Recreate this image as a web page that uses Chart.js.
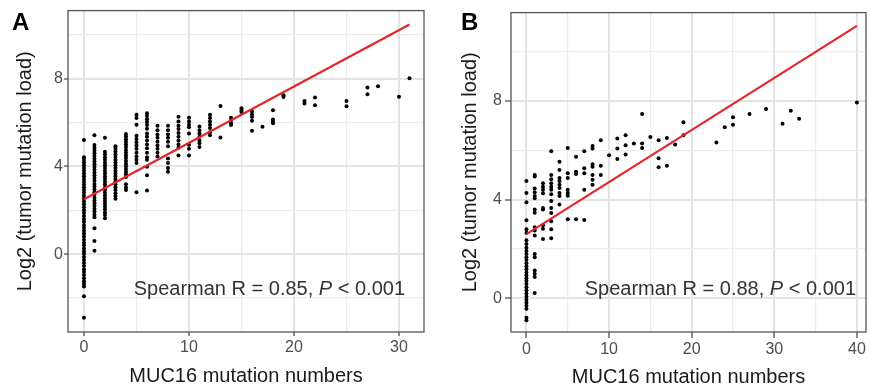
<!DOCTYPE html>
<html lang="en">
<head>
  <meta charset="UTF-8" />
  <title>MUC16 mutation numbers vs tumor mutation load</title>
  <!-- Chart.js -->
  <script src="https://cdn.jsdelivr.net/npm/chart.js"></script>
  <style>
    html, body { margin: 0; padding: 0; background: #fff; }
    .panel { position: absolute; top: 0; width: 435px; height: 391px; }
    #panelA { left: 0; }
    #panelB { left: 435px; }
    .tag { position: absolute; top: 8px; font: bold 24px "Liberation Sans", Arial, sans-serif; color: #000; line-height: normal; }
  </style>
</head>
<body>
  <div class="panel" id="panelA"><canvas id="chartA" width="435" height="391"></canvas></div>
  <div class="panel" id="panelB"><canvas id="chartB" width="435" height="391"></canvas></div>
  <div class="tag" style="left: 12px;">A</div>
  <div class="tag" style="left: 461px;">B</div>

  <script>
    // ---- data ----
    // panel A: MUC16 mutation numbers (x) and the log2 loads seen at each x
    const mutA = [0, 1, 2, 3, 4, 5, 6, 7, 8, 9, 10, 11, 12, 13, 14, 15, 16, 17, 18, 19, 21, 22, 25, 27, 28, 30, 31];
    const loadA = [
      [5.2, 4.42, 4.3, 4.18, 4.05, 3.92, 3.8, 3.68, 3.55, 3.42, 3.3, 3.17, 3.05, 2.92, 2.8, 2.66, 2.52, 2.4, 2.27, 2.14, 2.0, 1.87, 1.74, 1.6, 1.47, 1.33, 1.2, 1.07, 0.94, 0.8, 0.66, 0.52, 0.4, 0.26, 0.12, 0.0, -0.13, -0.27, -0.4, -0.54, -0.7, -0.82, -0.95, -1.1, -1.24, -1.36, -1.48, -1.92, -2.9],
      [5.42, 4.97, 4.85, 4.72, 4.6, 4.47, 4.35, 4.22, 4.1, 3.97, 3.84, 3.72, 3.6, 3.47, 3.34, 3.2, 3.08, 2.95, 2.82, 2.7, 2.57, 2.44, 2.32, 2.2, 2.07, 1.94, 1.8, 1.68, 1.18, 0.6, 0.15],
      [5.3, 4.67, 4.55, 4.42, 4.3, 4.17, 4.05, 3.92, 3.8, 3.67, 3.54, 3.42, 3.3, 3.17, 3.04, 2.92, 2.8, 2.67, 2.54, 2.42, 2.3, 2.17, 2.04, 1.9, 1.78, 1.64],
      [4.92, 4.8, 4.68, 4.55, 4.43, 4.3, 4.18, 4.05, 3.92, 3.8, 3.68, 3.55, 3.42, 3.3, 3.18, 3.05, 2.92, 2.78, 2.65, 2.52],
      [5.48, 5.36, 5.24, 5.12, 5.0, 4.88, 4.75, 4.62, 4.5, 4.38, 4.25, 4.12, 4.0, 3.88, 3.76, 3.64, 3.52, 3.18, 3.04, 2.92],
      [6.35, 6.2, 5.9, 5.4, 5.25, 5.1, 4.95, 4.8, 4.62, 4.45, 4.3, 4.15, 2.82],
      [6.42, 6.3, 6.15, 6.02, 5.88, 5.72, 5.5, 5.35, 5.18, 5.0, 4.82, 4.62, 4.42, 4.3, 3.98, 3.6, 2.9],
      [5.85, 5.65, 5.45, 5.3, 5.12, 4.95, 4.8, 4.62, 4.45],
      [5.85, 5.65, 5.45, 5.3, 5.12, 4.92, 4.36, 4.15, 3.92, 3.76],
      [6.26, 6.05, 5.85, 5.7, 5.52, 5.35, 5.18, 5.0, 4.85, 4.5],
      [6.22, 6.05, 5.9, 5.78, 5.5, 4.98, 4.8, 4.5],
      [5.82, 5.65, 5.5, 5.35, 5.18, 5.05, 4.88],
      [6.35, 6.2, 6.05, 5.9, 5.75, 5.55, 5.42],
      [6.75, 5.32],
      [6.22, 6.08, 5.95, 5.88],
      [6.65, 6.55, 6.48],
      [6.5, 6.36, 6.25, 6.08, 5.62],
      [5.8],
      [6.56, 6.14, 6.05, 5.96],
      [7.24, 7.16],
      [6.98, 6.86],
      [7.14, 6.79],
      [6.98, 6.74],
      [7.6, 7.29],
      [7.65],
      [7.17],
      [8.02]
    ];
    const fitXA = [0, 31];
    const fitYA = [2.5, 10.47];

    // panel B
    const mutB = [0, 1, 2, 3, 4, 5, 6, 7, 8, 9, 10, 11, 12, 13, 14, 15, 16, 17, 18, 19, 23, 24, 25, 27, 29, 31, 32, 33, 40];
    const loadB = [
      [4.75, 4.27, 3.89, 3.16, 2.8, 2.66, 2.35, 2.2, 2.05, 1.92, 1.8, 1.67, 1.55, 1.42, 1.3, 1.18, 1.05, 0.93, 0.82, 0.7, 0.58, 0.45, 0.33, 0.2, 0.08, -0.05, -0.18, -0.3, -0.42, -0.78, -0.88],
      [5.0, 4.93, 4.45, 4.3, 4.15, 4.05, 3.6, 3.47, 2.88, 2.75, 2.55, 1.8, 1.67, 1.13, 1.0, 0.87, 0.22],
      [4.66, 4.52, 4.4, 4.26, 3.66, 3.6, 2.96, 2.82, 2.4],
      [5.96, 5.0, 4.82, 4.66, 4.52, 4.4, 4.22, 3.94, 3.66, 3.46, 3.12, 2.8, 2.44],
      [5.53, 5.2, 4.87, 4.75, 4.6, 4.47, 4.27, 4.15, 3.8],
      [6.09, 5.07, 4.87, 4.4, 4.27, 4.16, 3.2],
      [5.73, 5.13, 5.04, 3.2],
      [5.96, 5.27, 5.07, 4.4, 3.17],
      [6.17, 6.07, 5.43, 5.33, 5.0, 4.8, 4.6],
      [6.4, 5.37, 5.0],
      [5.8],
      [6.47, 6.07, 5.64],
      [6.6, 6.2, 5.83],
      [6.27],
      [7.47, 6.27, 6.09],
      [6.53],
      [6.4, 5.67, 5.31],
      [6.49, 5.37],
      [6.23],
      [7.13, 6.6],
      [6.31],
      [6.93],
      [7.33, 7.03],
      [7.47],
      [7.67],
      [7.07],
      [7.6],
      [7.27],
      [7.93]
    ];
    const fitXB = [0, 40];
    const fitYB = [2.6, 11.03];

    // grid breaks (major ones get a label)
    const xGridA = [0, 5, 10, 15, 20, 25, 30];
    const xLabelsA = [0, 10, 20, 30];
    const yGridA = [-2, 0, 2, 4, 6, 8, 10];
    const yLabelsA = [0, 4, 8];
    const xGridB = [0, 5, 10, 15, 20, 25, 30, 35, 40];
    const xLabelsB = [0, 10, 20, 30, 40];
    const yGridB = [0, 2, 4, 6, 8, 10];
    const yLabelsB = [0, 4, 8];

    const FONT = '"Liberation Sans", Arial, Helvetica, sans-serif';

    function toPoints(xs, groups) {
      const pts = [];
      xs.forEach((x, i) => groups[i].forEach(y => pts.push({ x: x, y: y })));
      return pts;
    }

    // frame round the panel + the Spearman note
    const panelDecor = {
      id: 'panelDecor',
      afterDatasetsDraw(chart, args, opts) {
        const { ctx, chartArea } = chart;
        ctx.save();
        ctx.fillStyle = '#333';
        ctx.textBaseline = 'alphabetic';
        const parts = [[opts.before, ''], ['P', 'italic '], [opts.after, '']];
        let total = 0;
        parts.forEach(p => { ctx.font = p[1] + '20px ' + FONT; total += ctx.measureText(p[0]).width; });
        let x = chartArea.right - opts.right - total;
        const y = chartArea.bottom - opts.bottom;
        parts.forEach(p => {
          ctx.font = p[1] + '20px ' + FONT;
          ctx.fillText(p[0], x, y);
          x += ctx.measureText(p[0]).width;
        });
        ctx.strokeStyle = '#555';
        ctx.lineWidth = 1.3;
        ctx.strokeRect(chartArea.left, chartArea.top, chartArea.right - chartArea.left, chartArea.bottom - chartArea.top);
        ctx.restore();
      }
    };

    function axis(p) {
      return {
        type: 'linear',
        position: p.position,
        min: p.min,
        max: p.max,
        afterBuildTicks: s => { s.ticks = p.grid.map(v => ({ value: v })); },
        afterFit: s => { if (p.position === 'left') s.width = p.size; else s.height = p.size; },
        border: { display: false },
        grid: {
          color: c => p.labels.includes(c.tick.value) ? '#e3e3e3' : '#ececec',
          lineWidth: c => p.labels.includes(c.tick.value) ? 2 : 1.2,
          drawTicks: true,
          tickLength: p.tickLength,
          tickWidth: 1.2,
          tickColor: c => p.labels.includes(c.tick.value) ? '#444' : 'rgba(0,0,0,0)'
        },
        ticks: {
          autoSkip: false,
          maxRotation: 0,
          padding: p.tickPad,
          color: '#4d4d4d',
          font: { family: FONT, size: 16 },
          callback: v => p.labels.includes(v) ? String(v) : ''
        },
        title: {
          display: true,
          text: p.title,
          color: '#1a1a1a',
          font: { family: FONT, size: 20 },
          padding: p.titlePad
        }
      };
    }

    function makePanel(id, cfg) {
      new Chart(document.getElementById(id), {
        type: 'scatter',
        data: {
          datasets: [
            {
              type: 'line',
              data: cfg.fitX.map((x, i) => ({ x: x, y: cfg.fitY[i] })),
              borderColor: '#e3262a',
              borderWidth: 2.2,
              pointRadius: 0,
              order: 0
            },
            {
              data: toPoints(cfg.xs, cfg.ys),
              backgroundColor: '#000',
              borderWidth: 0,
              pointRadius: 2,
              order: 1
            }
          ]
        },
        options: {
          responsive: false,
          animation: false,
          layout: { padding: { top: cfg.padTop, right: cfg.padRight, left: 0, bottom: 0 } },
          plugins: {
            legend: { display: false },
            tooltip: { enabled: false },
            panelDecor: { before: cfg.noteText, after: ' < 0.001', right: cfg.noteRight, bottom: 37 }
          },
          scales: {
            x: axis({
              position: 'bottom', min: cfg.xMin, max: cfg.xMax, grid: cfg.xGrid, labels: cfg.xLabels,
              size: 59, tickLength: cfg.tickLength, tickPad: 2,
              title: 'MUC16 mutation numbers', titlePad: { top: 0, bottom: cfg.xTitlePad }
            }),
            y: axis({
              position: 'left', min: cfg.yMin, max: cfg.yMax, grid: cfg.yGrid, labels: cfg.yLabels,
              size: cfg.yAxisWidth, tickLength: cfg.tickLength, tickPad: cfg.yTickPad,
              title: 'Log2 (tumor mutation load)', titlePad: { top: cfg.yTitlePad, bottom: 0 }
            })
          }
        },
        plugins: [panelDecor]
      });
    }

    makePanel('chartA', {
      xs: mutA, ys: loadA, fitX: fitXA, fitY: fitYA,
      xMin: -1.52, xMax: 32.38, yMin: -3.55, yMax: 11.1,
      xGrid: xGridA, xLabels: xLabelsA, yGrid: yGridA, yLabels: yLabelsA,
      padTop: 10, padRight: 11, yAxisWidth: 68, tickLength: 4, yTickPad: 1,
      yTitlePad: 13, xTitlePad: 2.5,
      noteText: 'Spearman R = 0.85, ', noteRight: 19
    });

    makePanel('chartB', {
      xs: mutB, ys: loadB, fitX: fitXB, fitY: fitYB,
      xMin: -1.87, xMax: 41.1, yMin: -1.36, yMax: 11.57,
      xGrid: xGridB, xLabels: xLabelsB, yGrid: yGridB, yLabels: yLabelsB,
      padTop: 9, padRight: 0, yAxisWidth: 76, tickLength: 6, yTickPad: 3,
      yTitlePad: 23, xTitlePad: 1.5,
      noteText: 'Spearman R = 0.88, ', noteRight: 10
    });
  </script>
</body>
</html>
